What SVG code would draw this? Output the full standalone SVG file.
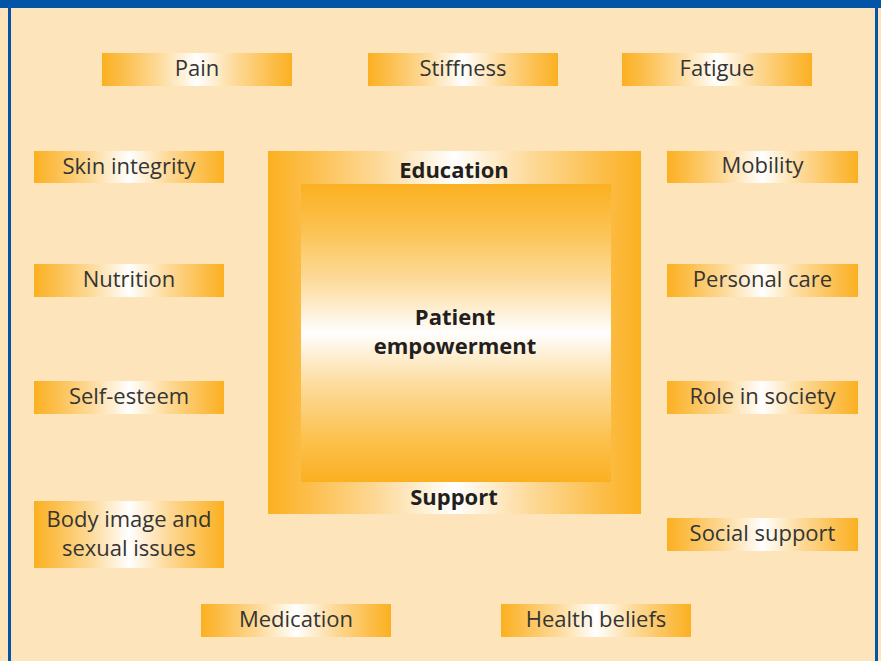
<svg xmlns="http://www.w3.org/2000/svg" width="881" height="661" viewBox="0 0 881 661">
<defs>
<linearGradient id="hg" x1="0" y1="0" x2="1" y2="0">
<stop offset="0" stop-color="#FBB021"/>
<stop offset="0.12" stop-color="#FCC04F"/>
<stop offset="0.3" stop-color="#FDDA9A"/>
<stop offset="0.42" stop-color="#FEF0D6"/>
<stop offset="0.5" stop-color="#FFFFFF"/>
<stop offset="0.58" stop-color="#FEF0D6"/>
<stop offset="0.7" stop-color="#FDDA9A"/>
<stop offset="0.88" stop-color="#FCC04F"/>
<stop offset="1" stop-color="#FBB021"/>
</linearGradient>
<linearGradient id="vg" x1="0" y1="0" x2="0" y2="1">
<stop offset="0" stop-color="#FBB021"/>
<stop offset="0.15" stop-color="#FCC250"/>
<stop offset="0.32" stop-color="#FDDA9A"/>
<stop offset="0.43" stop-color="#FEF0D6"/>
<stop offset="0.5" stop-color="#FFFFFF"/>
<stop offset="0.57" stop-color="#FEF0D6"/>
<stop offset="0.68" stop-color="#FDDA9A"/>
<stop offset="0.85" stop-color="#FCC250"/>
<stop offset="1" stop-color="#FBB021"/>
</linearGradient>
</defs>
<style>
.box{fill:url(#hg)}
.t{font-family:"Open Sans","Noto Sans","Liberation Sans",sans-serif;font-size:22px;fill:#353433;text-anchor:middle}
.b{font-family:"Open Sans","Noto Sans","Liberation Sans",sans-serif;font-size:22px;font-weight:bold;fill:#231F20;text-anchor:middle}
</style>
<rect x="0" y="0" width="881" height="661" fill="#FDE4BA"/>
<rect x="0" y="0" width="881" height="8" fill="#0354A6"/>
<rect x="8" y="0" width="3" height="661" fill="#0354A6"/>
<rect x="875" y="0" width="3" height="661" fill="#0354A6"/>

<g id="connectors"></g>

<g id="center">
<rect x="268" y="151" width="373" height="363" class="box"/>
<rect x="301" y="184" width="310" height="298" fill="url(#vg)"/>
<text class="b" x="454" y="177.5">Education</text>
<text class="b" x="454" y="505">Support</text>
<text class="b" x="455" y="324.5">Patient</text>
<text class="b" x="455" y="353.5">empowerment</text>
</g>

<g id="pain"><rect x="102" y="53" width="190" height="33" class="box"/><text class="t" x="197" y="76">Pain</text></g>
<g id="stiffness"><rect x="368" y="53" width="190" height="33" class="box"/><text class="t" x="463" y="76">Stiffness</text></g>
<g id="fatigue"><rect x="622" y="53" width="190" height="33" class="box"/><text class="t" x="717" y="76">Fatigue</text></g>

<g id="skin"><rect x="34" y="151" width="190" height="32" class="box"/><text class="t" x="129" y="173.5">Skin integrity</text></g>
<g id="nutrition"><rect x="34" y="264" width="190" height="33" class="box"/><text class="t" x="129" y="287">Nutrition</text></g>
<g id="selfesteem"><rect x="34" y="381" width="190" height="33" class="box"/><text class="t" x="129" y="404">Self-esteem</text></g>
<g id="bodyimage"><rect x="34" y="501" width="190" height="67" class="box"/><text class="t" x="129" y="527">Body image and</text><text class="t" x="129" y="556">sexual issues</text></g>

<g id="mobility"><rect x="667" y="151" width="191" height="32" class="box"/><text class="t" x="762.5" y="173">Mobility</text></g>
<g id="personalcare"><rect x="667" y="264" width="191" height="33" class="box"/><text class="t" x="762.5" y="287">Personal care</text></g>
<g id="role"><rect x="667" y="381" width="191" height="33" class="box"/><text class="t" x="762.5" y="404">Role in society</text></g>
<g id="socialsupport"><rect x="667" y="518" width="191" height="33" class="box"/><text class="t" x="762.5" y="541">Social support</text></g>

<g id="medication"><rect x="201" y="604" width="190" height="33" class="box"/><text class="t" x="296" y="627">Medication</text></g>
<g id="healthbeliefs"><rect x="501" y="604" width="190" height="33" class="box"/><text class="t" x="596" y="627">Health beliefs</text></g>
</svg>
